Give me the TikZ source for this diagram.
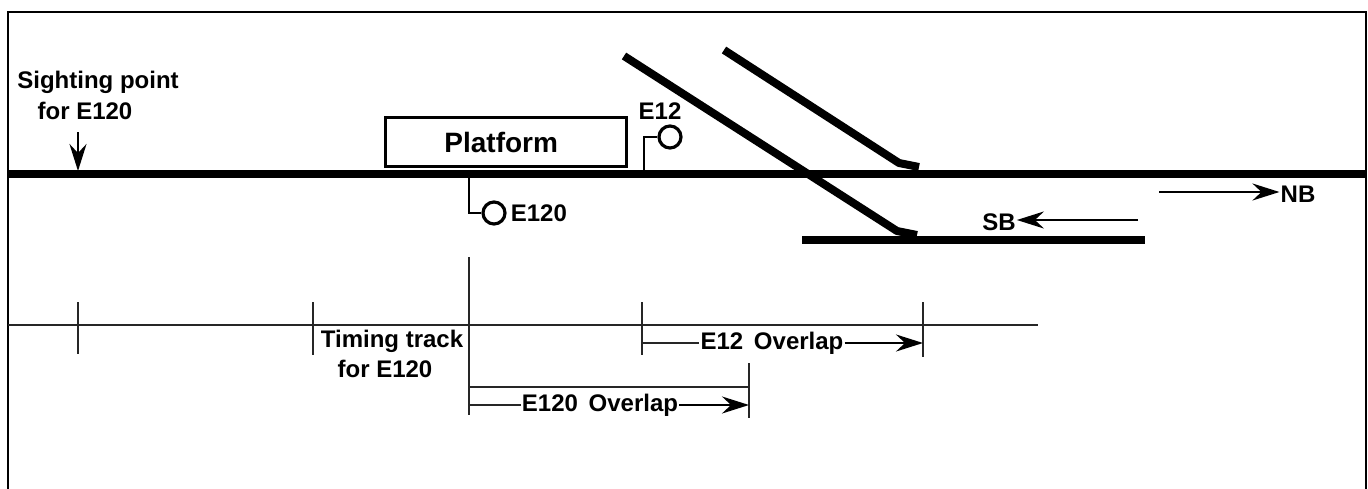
\documentclass[tikz,border=0pt]{standalone}
\usepackage{fontspec}
\setmainfont{Liberation Sans}
\usetikzlibrary{arrows.meta,positioning}

\begin{document}
\begin{tikzpicture}[x=1pt, y=-1pt,
  font=\fontsize{24}{29}\selectfont\bfseries,
  node distance=2pt and 2pt,
  caption/.style={inner sep=1pt, align=center},
  track/.style ={line width=8.5pt},
  branch/.style={line width=8pt, line join=round},
  rule/.style  ={line width=2.4pt, black!85},
  mast/.style  ={line width=2.8pt},
  lamp/.style  ={circle, draw, line width=3.2pt, fill=white,
                 minimum size=22pt, inner sep=0pt},
  dir/.style   ={-{Stealth[length=27pt, width=17pt, inset=9pt]}, line width=2.4pt},
]

\useasboundingbox (0,0) rectangle (1368,489);

% === Frame ===
\draw[line width=2pt] (8,489) -- (8,12) -- (1366,12) -- (1366,489);

% === Tracks ===
\coordinate (mainW) at (8,174);
\coordinate (mainE) at (1366,174);
\coordinate (sidingW) at (802,240);
\coordinate (sidingE) at (1145,240);
\draw[track] (mainW) -- (mainE);
\draw[track] (sidingW) -- (sidingE);

\coordinate (crossTop) at (624,56);
\coordinate (crossBend) at (897,231);
\coordinate (crossEnd) at (917,235);
\coordinate (turnTop) at (724,50);
\coordinate (turnBend) at (899,163);
\coordinate (turnEnd) at (919,167);
\draw[branch] (crossTop) -- (crossBend) -- (crossEnd);
\draw[branch] (turnTop) -- (turnBend) -- (turnEnd);

% === Platform ===
\node[draw, line width=3.4pt, minimum width=241pt, minimum height=49pt,
      font=\fontsize{28}{32}\selectfont\bfseries, anchor=north west] (platform)
  at (384,116) {Platform\hspace*{10pt}};

% === Signals ===
\coordinate (e120foot) at (469,174);
\node[lamp] (e120lamp) at (494,213) {};
\node[caption, right=3pt of e120lamp] (e120name) {E120};
\draw[mast] (e120foot) |- (e120lamp.west);

\coordinate (e12foot) at (644,174);
\node[lamp] (e12lamp) at (670,137) {};
\node[caption] (e12name) at (660,111) {E12};
\draw[mast] (e12foot) |- (e12lamp.west);

% === Sighting point ===
\node[caption] (sighting) at (98,82) {Sighting point};
\node[caption] (sightfor) at (85,111) {for E120};
\coordinate (sightTip) at (78,171);
\draw[dir, shorten <=11pt] (sightfor.south -| sightTip) -- (sightTip);

% === Directions ===
\node[caption] (nb) at (1298,194) {NB};
\coordinate (nbTail) at (1159,192);
\draw[dir] (nbTail) -- (nb.west |- nbTail);
\node[caption] (sb) at (999,222) {SB};
\coordinate (sbTail) at (1138,220);
\draw[dir] (sbTail) -- (sb.east |- sbTail);

% === Timing track ===
\coordinate (timeW) at (8,325);
\coordinate (timeE) at (1038,325);
\draw[rule] (timeW) -- (timeE);

\foreach \tickname/\tickx/\ticktop/\tickbot in {a/78/302/354, b/313/302/355, c/469/257/415,
    d/642/302/355, e/923/302/357, f/749/363/418} {
  \coordinate (tick\tickname-top) at (\tickx,\ticktop);
  \coordinate (tick\tickname-bot) at (\tickx,\tickbot);
  \draw[rule] (tick\tickname-top) -- (tick\tickname-bot);
}

\node[caption] (timing) at (392,341) {Timing track};
\node[caption] (timingfor) at (385,369) {for E120};

% === Overlaps ===
\node[caption] (ovl12) at (772,343) {E12\hspace{4pt} Overlap};
\draw[rule] (tickd-top |- ovl12) -- (ovl12.west);
\draw[dir] (ovl12.east) -- (ticke-top |- ovl12);

\coordinate (ovlbar) at (469,387);
\draw[rule] (ovlbar) -- (tickf-top |- ovlbar);
\node[caption] (ovl120) at (600,405) {E120\hspace{4pt} Overlap};
\draw[rule] (tickc-top |- ovl120) -- (ovl120.west);
\draw[dir] (ovl120.east) -- (tickf-top |- ovl120);

\end{tikzpicture}
\end{document}
